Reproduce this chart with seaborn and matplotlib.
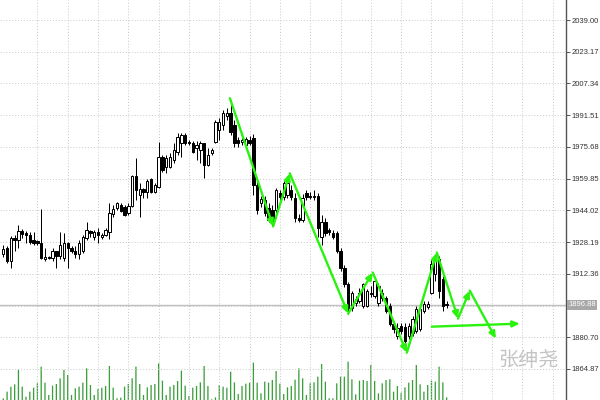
import matplotlib
matplotlib.use("Agg")
import matplotlib.pyplot as plt
import matplotlib.transforms as mtransforms
import seaborn as sns

# candle data (bar index = position from the left)
opens = [1922.5, 1925, 1919, 1930, 1929, 1933.5, 1932.5, 1931.5, 1929, 1928.5,
         1927.5, 1920, 1920.6, 1920.5, 1924, 1921.5, 1920.5, 1927.5, 1925, 1924,
         1922.5, 1924, 1930, 1933.5, 1930.5, 1933, 1930.5, 1931.5, 1933, 1942,
         1945, 1946.5, 1945.5, 1942.5, 1946, 1961, 1951.5, 1954.5, 1953, 1959.5,
         1953, 1955.5, 1970.5, 1965.5, 1965.5, 1969, 1973, 1977.5, 1981.5, 1978,
         1977.5, 1975, 1974, 1977.5, 1966.5, 1972.5, 1978, 1984, 1986.5, 1991,
         1992.5, 1986.5, 1979, 1978, 1976.5, 1979, 1980, 1956.5, 1947.5, 1949,
         1945, 1944, 1944, 1952.5, 1950.5, 1951.5, 1954, 1950, 1940, 1939,
         1952.5, 1951.2, 1951, 1951, 1930.5, 1938, 1934, 1932.5, 1932.5, 1924,
         1915.5, 1907.5, 1895.5, 1898, 1899, 1896.5, 1896.5, 1903, 1901.5, 1898,
         1900.5, 1900.5, 1896.5, 1887.5, 1881.5, 1886.5, 1886, 1881.5, 1883, 1884,
         1885, 1894, 1896, 1903, 1912.5, 1920, 1910, 1897.5]
highs = [1926.5, 1926, 1931, 1931.5, 1936.5, 1934.5, 1933.5, 1933, 1933, 1929,
         1944.5, 1925, 1921.5, 1925, 1924, 1933, 1932.5, 1928, 1926, 1926,
         1929, 1931.5, 1938, 1934, 1934, 1935, 1932.5, 1935, 1947.5, 1946.5,
         1948, 1947.5, 1946.5, 1947.5, 1961.5, 1970, 1957.5, 1955, 1959.5, 1960,
         1957.5, 1978, 1971.5, 1971.5, 1972.5, 1977.5, 1982.5, 1982.5, 1982.5, 1979,
         1978.5, 1978.5, 1978.5, 1977.5, 1975, 1975, 1989, 1990, 1994, 1995,
         1999, 1989, 1980.5, 1980, 1980.5, 1981, 1982, 1959, 1951, 1951,
         1947.5, 1946.5, 1955, 1954, 1958.5, 1959, 1956.5, 1952.5, 1942, 1952,
         1954, 1953, 1954, 1952.5, 1941.5, 1940, 1935, 1934, 1933.5, 1925,
         1917, 1908.5, 1904, 1901.5, 1905.5, 1908, 1905, 1906.5, 1910, 1908,
         1905, 1901.5, 1898, 1889, 1888, 1888, 1888, 1888, 1891.5, 1896.5,
         1896.5, 1899, 1899, 1920, 1920.5, 1921.5, 1911.5, 1899]
lows = [1921, 1918, 1915.5, 1924, 1925, 1930, 1927.5, 1927, 1926.5, 1926.5,
        1920, 1919, 1920, 1919, 1915.5, 1920, 1919, 1915.5, 1923, 1920.5,
        1920, 1923, 1929, 1930.5, 1929, 1927.5, 1929.5, 1931, 1929.5, 1940.5,
        1944, 1943, 1941, 1941.5, 1945.5, 1949, 1940.5, 1950, 1950, 1952.5,
        1952.5, 1955, 1963, 1962.5, 1965, 1967.5, 1971.5, 1970.5, 1976.5, 1976.5,
        1972.5, 1969, 1967.5, 1960, 1966, 1971.5, 1977.5, 1979, 1984, 1989,
        1981.5, 1975.5, 1975.5, 1976.5, 1975.5, 1976.5, 1951.5, 1942, 1945.5, 1941,
        1938, 1936, 1940, 1949, 1949, 1950, 1949, 1938, 1938, 1938,
        1949, 1949.5, 1949, 1930.5, 1926.5, 1931, 1931.5, 1929.5, 1923, 1914,
        1906, 1892.5, 1894, 1896.5, 1898, 1895.5, 1896, 1901, 1900.5, 1896.5,
        1899, 1893, 1886.5, 1883, 1880, 1882.5, 1877.5, 1880, 1881.5, 1883,
        1884, 1893, 1895, 1902.5, 1909, 1900.5, 1894, 1895.5]
closes = [1924.5, 1919, 1930, 1929, 1933.5, 1932, 1931.5, 1928, 1927.5, 1927.5,
          1920.5, 1921, 1920.4, 1924, 1921.5, 1926.5, 1927.5, 1925, 1924, 1922.5,
          1927.5, 1930.5, 1934, 1932.5, 1933, 1931.5, 1931.5, 1934, 1942.5, 1944.5,
          1947.5, 1943.5, 1941.5, 1946, 1961, 1954, 1954.5, 1953, 1958.5, 1953,
          1956.5, 1970.5, 1964, 1970, 1970.5, 1974, 1980.5, 1981.5, 1977.5, 1977.5,
          1973, 1976.5, 1977.5, 1966.5, 1971.5, 1974, 1988, 1988, 1992.5, 1992.5,
          1983, 1977.5, 1977.5, 1979, 1979.5, 1977.5, 1956.5, 1944, 1949.5, 1942.5,
          1939, 1938, 1954, 1950.5, 1957.5, 1957.5, 1950.5, 1940, 1939, 1950,
          1950.5, 1950.8, 1950.5, 1935, 1938, 1932.5, 1933, 1930.5, 1924, 1915.5,
          1907.5, 1895.5, 1903, 1900, 1903, 1907.5, 1904, 1902.5, 1909, 1906.5,
          1903, 1894, 1887.5, 1885, 1885.5, 1884, 1879, 1886.5, 1890, 1895,
          1895, 1897.5, 1897.5, 1917.5, 1919, 1904, 1896.5, 1896.88]
volumes = [5, 25, 40, 47, 92, 40, 10, 25, 37, 50,
           100, 52, 15, 43, 48, 65, 90, 75, 15, 35,
           40, 52, 95, 45, 15, 33, 37, 42, 102, 37,
           5, 7, 40, 48, 65, 100, 48, 15, 38, 45,
           48, 110, 58, 15, 40, 45, 57, 88, 43, 12,
           37, 42, 53, 102, 42, 2, 8, 45, 40, 37,
           85, 53, 18, 42, 49, 52, 112, 52, 20, 55,
           52, 60, 87, 49, 18, 38, 42, 61, 95, 65,
           15, 50, 53, 70, 108, 55, 5, 5, 50, 70,
           70, 115, 62, 17, 58, 60, 57, 105, 57, 20,
           50, 60, 62, 25, 42, 22, 38, 52, 60, 105,
           47, 25, 45, 58, 55, 100, 53, 8]

price_ticks = [2039.00, 2023.17, 2007.34, 1991.51, 1975.68, 1959.85,
               1944.02, 1928.19, 1912.36, 1896.53, 1880.70, 1864.87]
tick_labels = ["2039.00", "2023.17", "2007.34", "1991.51", "1975.68", "1959.85",
               "1944.02", "1928.19", "1912.36", "", "1880.70", "1864.87"]
last_price = 1896.88

# hand-drawn green zigzag (bar index, price)
zigzag_bar = [59.8, 71.2, 75.6, 91.0, 97.5, 106.5, 114.4, 120.0, 123.1, 130.0]
zigzag_price = [2000, 1936, 1962.5, 1892.5, 1913, 1873, 1923, 1890, 1904, 1880]
flat_bar = [113.1, 136.3]
flat_price = [1886, 1887.5]

sns.set_style("white")
plt.rcParams['font.family'] = ['Liberation Sans', 'DejaVu Sans']

green = '#2af20f'
vol_green = '#3a9e3a'
n = len(opens)
bars = list(range(n))
xlim = (-0.87, 148.5)
ylim = (1849.4, 2049.0)

fig = plt.figure(figsize=(6, 4), dpi=100)
rect = [0, 0, 566 / 600, 1]
vol_ax = fig.add_axes(rect, zorder=1)
ax = fig.add_axes(rect, zorder=2)
ax.patch.set_visible(False)

# volumes at the bottom
sns.barplot(x=bars, y=volumes, ax=vol_ax, color=vol_green, width=0.34,
            saturation=1, linewidth=0, errorbar=None, snap=False)
vol_ax.set_xlim(xlim)
vol_ax.set_ylim(0, 1200)
vol_ax.axis('off')

# candles
up = [c >= o for o, c in zip(opens, closes)]
wick_lo = [min(l, o, c) for l, o, c in zip(lows, opens, closes)]
wick_hi = [max(h, o, c) for h, o, c in zip(highs, opens, closes)]
ax.vlines(bars, wick_lo, wick_hi, color='black', lw=0.72, zorder=3)
bottoms = [min(o, c) for o, c in zip(opens, closes)]
heights = [max(abs(c - o), 0.15) for o, c in zip(opens, closes)]
faces = ['white' if u else 'black' for u in up]
ax.bar(bars, heights, bottom=bottoms, width=0.62, color=faces,
       edgecolor='black', linewidth=0.72, zorder=4)

# current price line
ax.axhline(last_price, color='#c0c0c0', lw=1, zorder=2)

# zigzag arrows
arrow = dict(arrowstyle='-|>,head_length=0.4,head_width=0.18',
             color=green, lw=1.7, shrinkA=0, shrinkB=0)
for i in range(len(zigzag_bar) - 1):
    ax.annotate('', xy=(zigzag_bar[i + 1], zigzag_price[i + 1]),
                xytext=(zigzag_bar[i], zigzag_price[i]),
                arrowprops=arrow, zorder=6)
ax.annotate('', xy=(flat_bar[1], flat_price[1]), xytext=(flat_bar[0], flat_price[0]),
            arrowprops=arrow, zorder=6)

ax.set_xlim(xlim)
ax.set_ylim(ylim)

# grid and axis
ax.set_xticks(range(9, 148, 8))
ax.tick_params(axis='x', length=0, labelbottom=False)
ax.yaxis.tick_right()
ax.set_yticks(price_ticks)
ax.set_yticklabels(tick_labels, fontsize=5.5, color='#333333')
ax.tick_params(axis='y', length=3, width=0.7, color='#555555', pad=1)
ax.grid(True, ls=(0, (1, 2)), color='#c8c8c8', lw=0.7)
ax.set_axisbelow(True)
for s in ['left', 'top', 'bottom']:
    ax.spines[s].set_visible(False)
ax.spines['right'].set_color('#555555')
ax.spines['right'].set_linewidth(1)

trans = mtransforms.blended_transform_factory(ax.transAxes, ax.transData)
ax.text(1.004, last_price, f"{last_price:.2f}", transform=trans, fontsize=5.5,
        color='white', ha='left', va='center',
        bbox=dict(boxstyle='square,pad=0.2', fc='#a8a8a8', ec='none'))

ax.text(0.933, 0.1, '张绅尧', transform=ax.transAxes, fontsize=14.5,
        color='#c4c4c4', ha='center', va='center',
        family=['Noto Sans CJK SC', 'DejaVu Sans'], zorder=1)

fig.savefig('out.png', dpi=100)
